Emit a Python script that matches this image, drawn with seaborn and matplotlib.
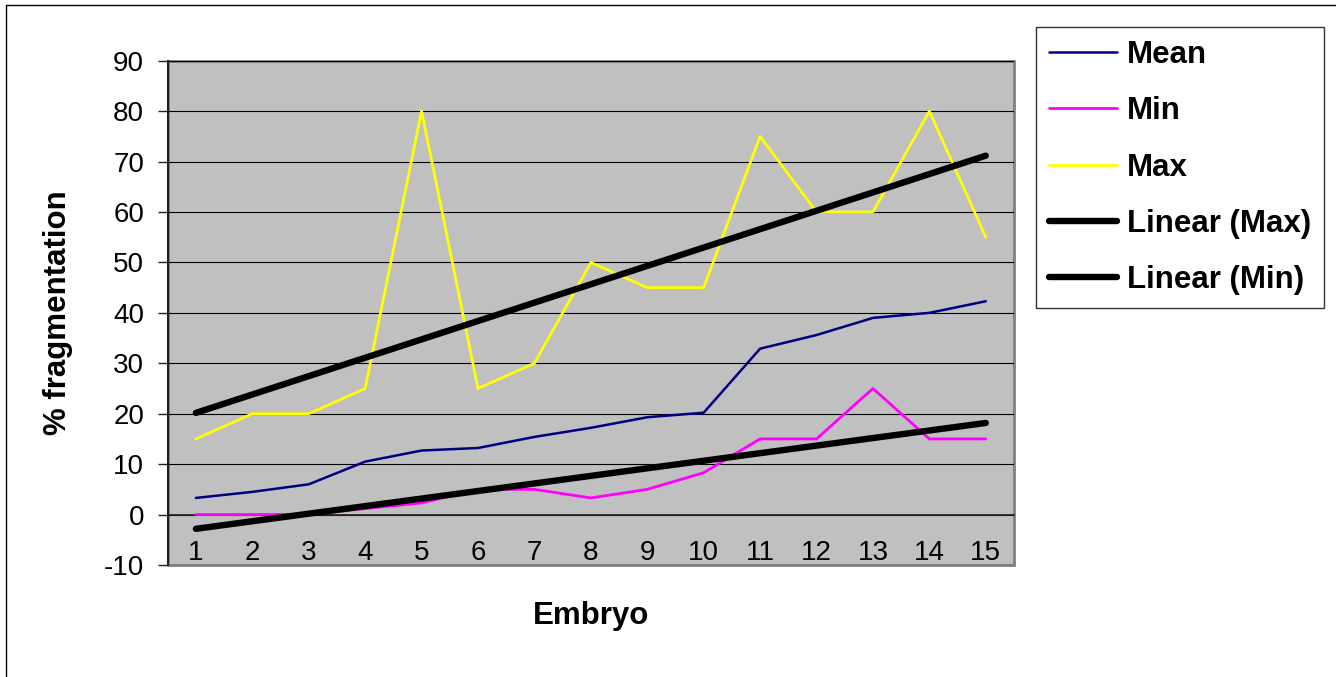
import numpy as np
import pandas as pd
import matplotlib
matplotlib.use("Agg")
import matplotlib.pyplot as plt
from matplotlib.patches import Rectangle
from matplotlib.lines import Line2D
import seaborn as sns

# Fragmentation per embryo
embryo = list(range(1, 16))
mean_vals = [3.3, 4.5, 6.0, 10.5, 12.7, 13.2, 15.4, 17.2, 19.3, 20.2, 32.9, 35.6, 39.0, 40.0, 42.3]
min_vals = [0, 0, 0, 1.2, 2.3, 5, 5, 3.3, 5, 8.3, 15, 15, 25, 15, 15]
max_vals = [15, 20, 20, 25, 80, 25, 30, 50, 45, 45, 75, 60, 60, 80, 55]
y_ticks = list(range(-10, 91, 10))

df = pd.DataFrame({"Embryo": embryo, "Mean": mean_vals, "Min": min_vals, "Max": max_vals})

# Least-squares trend lines for Max and Min
x = np.array(embryo, dtype=float)
df["Linear (Max)"] = np.polyval(np.polyfit(x, df["Max"], 1), x)
df["Linear (Min)"] = np.polyval(np.polyfit(x, df["Min"], 1), x)

sns.set_style("white")
plt.rcParams["font.family"] = ["Liberation Sans", "DejaVu Sans"]
plt.rcParams["axes.unicode_minus"] = False
for key in ("text.color", "axes.labelcolor", "xtick.color", "ytick.color"):
    plt.rcParams[key] = "black"

W, H = 1336, 677
fig = plt.figure(figsize=(W / 100, H / 100), dpi=100)
L, R, T, B = 167.7, 1014, 60.7, 565
ax = fig.add_axes([L / W, 1 - B / H, (R - L) / W, (B - T) / H])
ax.set_facecolor("#C0C0C0")

styles = [
    ("Mean", "#000080", 1.8, 3),
    ("Min", "#FF00FF", 2.0, 3),
    ("Max", "#FFFF00", 2.0, 3),
    ("Linear (Max)", "#000000", 4.6, 4),
    ("Linear (Min)", "#000000", 4.6, 4),
]
for name, color, lw, z in styles:
    sns.lineplot(data=df, x="Embryo", y=name, ax=ax, color=color, linewidth=lw,
                 label=name, zorder=z, solid_capstyle="round", legend=False)

ax.set_xlim(0.5, 15.5)
ax.set_ylim(-10, 90)

# Gridlines
ax.set_yticks(y_ticks)
ax.set_yticklabels([str(v) for v in y_ticks])
ax.yaxis.grid(True, color="black", linewidth=0.8)
ax.xaxis.grid(False)
ax.set_axisbelow(True)

# Category axis crossing at zero, ticks between categories
ax.spines["bottom"].set_position(("data", 0))
ax.spines["bottom"].set_color("#202020")
ax.spines["bottom"].set_linewidth(1.2)
ax.spines["left"].set_color("#202020")
ax.spines["left"].set_linewidth(1.5)
for s in ("top", "right"):
    ax.spines[s].set_visible(False)
ax.add_patch(Rectangle((0, 0), 1, 1, transform=ax.transAxes, fill=False,
                       edgecolor="#808080", linewidth=2, clip_on=False, zorder=0.5))

ax.set_xticks(embryo)
ax.set_xticklabels([str(e) for e in embryo])
ax.set_xticks(np.arange(0.5, 15.6, 1), minor=True)
ax.tick_params(axis="x", which="major", length=0, pad=18, labelsize=20, labelcolor="black")
ax.tick_params(axis="x", which="minor", length=6, width=1, direction="out", color="#202020")
ax.tick_params(axis="y", which="major", length=7, width=1, direction="out", pad=10,
               labelsize=20, color="#202020", labelcolor="black", left=True)

ax.set_xlabel("Embryo", fontsize=22.5, fontweight="bold", color="black")
ax.xaxis.set_label_coords(0.5, -0.072)
ax.set_ylabel("% fragmentation", fontsize=22.5, fontweight="bold", color="black")
ax.yaxis.set_label_coords(-0.112, 0.5)

handles = [Line2D([], [], color=c, linewidth=lw, solid_capstyle="round") for _, c, lw, _ in styles]
leg = fig.legend(handles, [s[0] for s in styles], loc="upper left",
                 bbox_to_anchor=(1036 / W, 1 - 27 / H), bbox_transform=fig.transFigure,
                 borderaxespad=0, frameon=True, fancybox=False, edgecolor="black",
                 prop={"weight": "bold", "size": 22.5}, handlelength=2.18,
                 handletextpad=0.3, labelspacing=0.84, borderpad=0.42)
leg.get_frame().set_linewidth(1)
for t in leg.get_texts():
    t.set_color("black")

# Outer chart border
fig.add_artist(Line2D([6 / W, 6 / W], [0, 1 - 5 / H], transform=fig.transFigure, color="black", linewidth=1))
fig.add_artist(Line2D([6 / W, 1], [1 - 5 / H, 1 - 5 / H], transform=fig.transFigure, color="black", linewidth=1))

fig.savefig("out.png", dpi=100)
